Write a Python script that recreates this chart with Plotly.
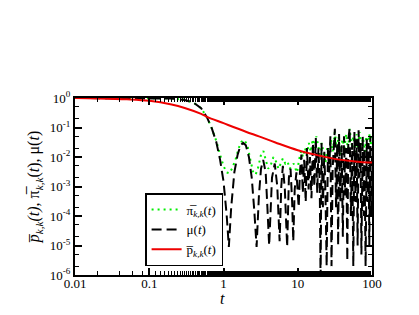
import plotly.graph_objects as go

# ---- data ----
t_mu = [0.01, 0.05, 0.1, 0.2, 0.3, 0.4, 0.5, 0.6, 0.7, 0.8, 0.9, 1.0, 1.1, 1.18, 1.27, 1.4, 1.55, 1.7, 1.84,
        2.0, 2.2, 2.4, 2.6, 2.79, 3.0, 3.2, 3.42, 3.7, 3.9, 4.12, 4.5, 4.9, 5.3, 5.7, 6.0, 6.3, 6.7, 7.2,
        7.6, 8.0, 8.4, 8.7, 9.1, 9.6, 10.3, 10.7, 11.2, 11.7, 12.2, 12.8, 13.3, 14.0, 14.6, 15.3, 16.0,
        16.7, 17.5, 18.3, 19.0, 19.8, 20.3, 20.9, 21.8, 22.8, 23.6, 24.5, 25.5, 26.5, 27.5, 28.5, 29.5,
        30.5, 31.6, 32.8, 34, 35, 36, 37.5, 39, 40.5, 42, 43.5, 45, 46.5, 48, 50, 52, 54, 56, 58, 60, 62,
        64, 66, 68, 70, 72, 75, 77, 79, 82, 85, 87, 90, 92, 95, 97, 100]
mu = [1.0, 1.0, 0.99, 0.96, 0.86, 0.68, 0.45, 0.22, 0.09, 0.032, 0.008, 0.0015, 1.2e-4, 9e-6, 2e-4, 0.003,
      0.012, 0.025, 0.03, 0.025, 0.01, 0.002, 1.5e-4, 9e-6, 5e-4, 0.004, 0.008, 0.003, 2e-4, 1e-5, 0.002,
      0.006, 0.001, 1.4e-5, 0.001, 0.005, 8e-4, 9e-6, 0.002, 0.004, 3e-4, 1.4e-5, 8e-4, 0.003, 2e-4,
      0.003, 0.012, 6e-4, 0.008, 3e-4, 0.02, 8e-4, 0.01, 4e-4, 0.03, 1e-3, 0.044, 6e-4, 0.02, 1e-3,
      5e-7, 0.03, 2e-4, 0.015, 6e-4, 2e-6, 0.02, 3e-3, 0.05, 2e-6, 0.004, 0.02, 0.09, 2e-4, 0.03, 1e-5,
      0.06, 3e-4, 0.025, 2e-5, 0.05, 5e-4, 0.02, 3e-6, 0.04, 0.095, 1e-4, 0.03, 2e-6, 0.07, 3e-4, 0.04,
      1e-5, 0.08, 2e-3, 0.03, 5e-6, 0.05, 1e-4, 0.02, 2e-6, 0.04, 3e-4, 0.03, 1e-5, 0.05, 1e-4, 0.02]

t_pi = [0.01, 0.1, 0.2, 0.3, 0.4, 0.5, 0.6, 0.7, 0.8, 0.9, 1.0, 1.1, 1.2, 1.3, 1.45, 1.6, 1.75, 1.9, 2.1,
        2.3, 2.5, 2.7, 2.9, 3.2, 3.45, 3.7, 4.0, 4.3, 4.7, 5.1, 5.5, 5.9, 6.3, 6.8, 7.3, 7.8, 8.3, 8.8,
        9.3, 9.8, 10.4, 11.1, 11.8, 12.5, 13.3, 14.1, 15.0, 15.9, 16.8, 17.8, 18.8, 19.9, 21, 22.3, 23.6,
        25, 26.5, 28, 29.5, 31.6, 33.5, 35.5, 37.5, 40, 42.5, 45, 47.5, 50, 53, 56, 59, 62, 65, 68, 72,
        76, 80, 84, 88, 92, 96, 100]
pi_bar = [1.0, 1.0, 0.97, 0.87, 0.68, 0.45, 0.22, 0.09, 0.035, 0.012, 0.005, 0.003, 0.0028, 0.004, 0.008,
          0.02, 0.033, 0.038, 0.025, 0.008, 0.0032, 0.0025, 0.004, 0.012, 0.016, 0.008, 0.004, 0.005,
          0.01, 0.007, 0.004, 0.006, 0.009, 0.006, 0.007, 0.004, 0.005, 0.006, 0.004, 0.003, 0.008, 0.016,
          0.01, 0.02, 0.012, 0.03, 0.015, 0.04, 0.02, 0.05, 0.025, 0.012, 0.03, 0.015, 0.006, 0.02, 0.01,
          0.04, 0.015, 0.07, 0.02, 0.05, 0.012, 0.04, 0.02, 0.06, 0.015, 0.09, 0.025, 0.05, 0.015, 0.06,
          0.02, 0.07, 0.025, 0.045, 0.015, 0.05, 0.02, 0.06, 0.025, 0.05]

t_p = [0.01, 0.02, 0.05, 0.1, 0.2, 0.3, 0.5, 0.6, 1.0, 2.0, 3.0, 5.0, 10, 20, 30, 50, 70, 100]
p_bar = [1.0, 0.97, 0.9, 0.8, 0.6, 0.46, 0.29, 0.23, 0.14, 0.072, 0.05, 0.031, 0.017, 0.011, 0.0088,
         0.0074, 0.0068, 0.0065]

x_tickvals = [0.01, 0.1, 1, 10, 100]
x_ticktext = ["0.01", "0.1", "1", "10", "100"]
y_tickvals = [1, 0.1, 0.01, 1e-3, 1e-4, 1e-5, 1e-6]
y_ticktext = ["10<sup>0</sup>", "10<sup>-1</sup>", "10<sup>-2</sup>", "10<sup>-3</sup>",
              "10<sup>-4</sup>", "10<sup>-5</sup>", "10<sup>-6</sup>"]

SERIF = "Liberation Serif"

fig = go.Figure()
fig.add_trace(go.Scatter(x=t_pi, y=pi_bar, mode="lines",
                         line=dict(color="#00ee00", width=2, dash="2px,4px"),
                         name="π\u0305<sub><i>k,k</i></sub>(<i>t</i>)"))
fig.add_trace(go.Scatter(x=t_mu, y=mu, mode="lines",
                         line=dict(color="black", width=2, dash="10px,5px"),
                         name="μ(<i>t</i>)"))
fig.add_trace(go.Scatter(x=t_p, y=p_bar, mode="lines", line_shape="spline",
                         line=dict(color="#ee0000", width=2),
                         name="p\u0305<sub><i>k,k</i></sub>(<i>t</i>)"))

axis_common = dict(type="log", showgrid=False, zeroline=False, showline=True, linecolor="black",
                   linewidth=2, mirror="allticks", ticks="inside", ticklen=7, tickwidth=1.5,
                   tickcolor="black", tickfont=dict(family=SERIF, size=13, color="black"),
                   automargin=False,
                   minor=dict(ticks="inside", ticklen=4, tickcolor="black", tickwidth=1, showgrid=False))

fig.update_xaxes(range=[-2, 2], tickvals=x_tickvals, ticktext=x_ticktext, ticklabelstandoff=-5,
                 **axis_common)
fig.update_yaxes(range=[-6, 0], tickvals=y_tickvals, ticktext=y_ticktext,
                 title=dict(text="<i>p\u0305<sub>k,k</sub>(t)</i>, π\u0305<sub><i>k,k</i></sub>(<i>t</i>), μ(<i>t</i>)",
                            font=dict(family=SERIF, size=16, color="black"), standoff=6),
                 **axis_common)

fig.add_annotation(text="<i>t</i>", xref="paper", yref="paper", x=0.497, y=-0.075,
                   xanchor="center", yanchor="top", showarrow=False,
                   font=dict(family=SERIF, size=16, color="black"))

# the page body has an 8px margin, so the figure is shrunk by that amount
fig.update_layout(
    width=411, height=307,
    margin=dict(l=67, r=47, t=90, b=40),
    paper_bgcolor="white", plot_bgcolor="white",
    font=dict(family=SERIF, color="black"),
    legend=dict(x=0.236, y=0.463, xanchor="left", yanchor="top",
                bgcolor="white", bordercolor="black", borderwidth=1.5,
                font=dict(family=SERIF, size=13, color="black"),
                tracegroupgap=0, itemwidth=30),
    showlegend=True,
)

fig.write_html("out.html")
